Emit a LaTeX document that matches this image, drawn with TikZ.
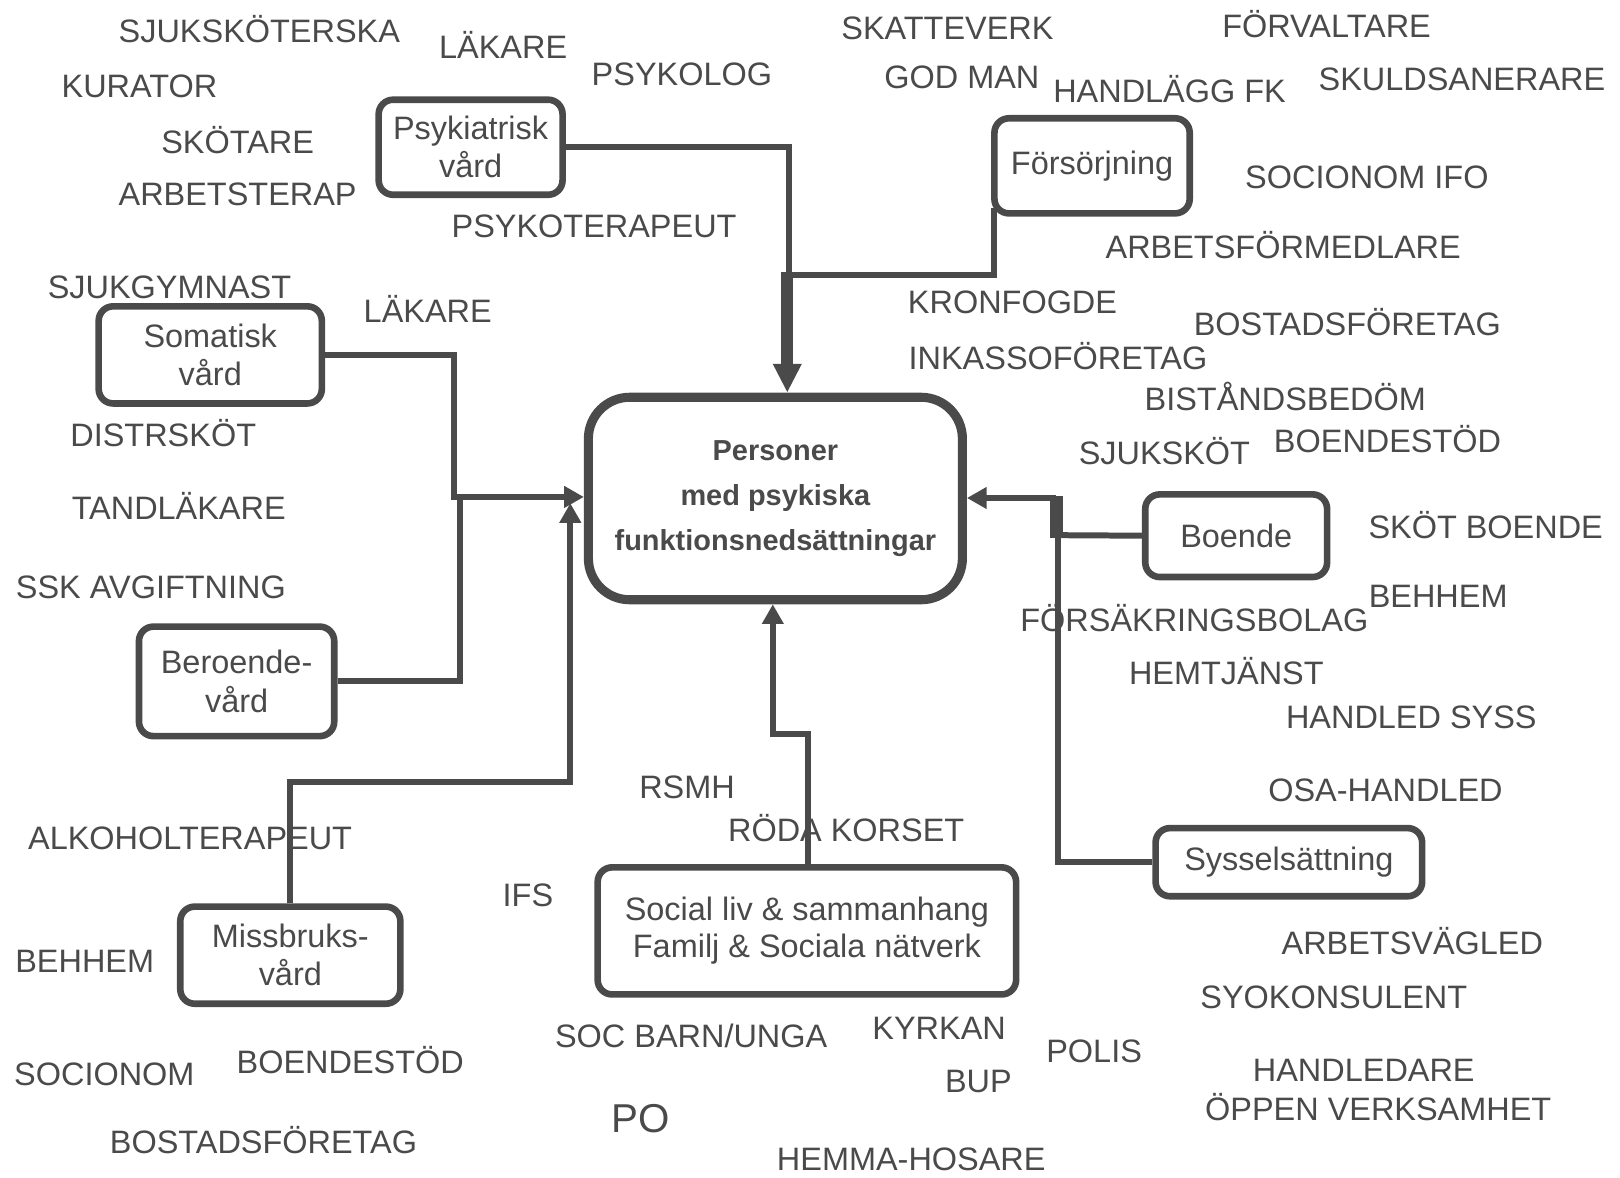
\documentclass[tikz,border=0pt]{standalone}
\usepackage{fontspec}
\setmainfont{Liberation Sans}
\usetikzlibrary{arrows.meta}
\definecolor{ink}{HTML}{4A4A4A}
\tikzset{
  lbl/.style={inner sep=0pt, text height=11.2pt, text depth=0pt, text=ink,
    font=\fontsize{15.7}{18.5}\selectfont},
  boxn/.style={draw=ink, line width=3.2pt, rounded corners=7pt, inner sep=0pt,
    align=center, text=ink, font=\fontsize{15.7}{18.5}\selectfont},
  conn/.style={draw=ink, line width=2.9pt},
  tipend/.style={-{Triangle[length=9.5pt,width=10pt]}},
}
\begin{document}
\begin{tikzpicture}[x=0.5pt,y=-0.5pt]
\useasboundingbox (0,0) rectangle (1568,1140);
\fill[white] (0,0) rectangle (1568,1140);

% ---- boxes
\node[boxn, minimum width=89pt, minimum height=46pt] (psy) at (455.5,142.5) {Psykiatrisk\\vård};
\node[boxn, minimum width=94.5pt, minimum height=46pt] (fors) at (1057,160.5) {Försörjning};
\node[boxn, minimum width=108pt, minimum height=47pt] (som) at (203.5,343.5) {Somatisk\\vård};
\node[boxn, minimum width=94.5pt, minimum height=53pt] (ber) at (229,659.5) {Beroende-\\vård};
\node[boxn, minimum width=106.5pt, minimum height=47pt] (mis) at (281,924.5) {Missbruks-\\vård};
\node[boxn, line width=4.4pt, rounded corners=20pt, minimum width=181pt, minimum height=98pt,
  font=\fontsize{14}{21.75}\selectfont\bfseries] (cen) at (750.5,482.5)
  {Personer\\med psykiska\\funktionsnedsättningar};
\node[boxn, minimum width=88pt, minimum height=40pt] (boe) at (1196.5,518.5) {Boende};
\node[boxn, minimum width=129pt, minimum height=33pt] (sys) at (1247.5,834.5) {Sysselsättning};
\node[boxn, minimum width=202.5pt, minimum height=61.5pt, font=\fontsize{15.7}{18}\selectfont] (soc) at (781,901)
  {Social liv \& sammanhang\\Familj \& Sociala nätverk};

% ---- connectors
\coordinate (jt) at (764,266);
\draw[conn] (psy.east) -| (jt);
\draw[conn] ([xshift=1.5pt,yshift=4pt]fors.south west) |- (jt);
\draw[draw=ink, line width=6pt, -{Triangle[length=14pt,width=13pt]}]
  ([xshift=-1pt,yshift=1.5pt]jt) -- ([xshift=-1pt]jt |- cen.north);

\coordinate (jl) at (439,481);
\draw[conn, tipend] (som.east) -| (jl) -- (jl -| cen.west);
\draw[conn] (ber.east) -| ([xshift=3pt]jl);

\coordinate (mb) at (552,757);
\coordinate (mt) at (552,487);
\draw[conn, tipend] (mis.north) |- (mb) -- (mt);

\coordinate (sj) at (748,710);
\draw[conn, tipend] ([xshift=0.5pt]soc.north) |- (sj) -- (sj |- cen.south);

\coordinate (jr) at (1024,518);
\coordinate (jr2) at (1022,482);
\draw[conn] (boe.west) -- (jr);
\draw[conn] (sys.west) -| (jr);
\fill[ink] (1016,480) rectangle (1029,521);
\draw[conn, tipend] (jr2) -- (jr2 -| cen.east);

% ---- labels, left / bottom
\node[lbl] (a1) at (251,30) {SJUKSKÖTERSKA};
\node[lbl] (a2) at (487,45) {LÄKARE};
\node[lbl] (a3) at (660,72) {PSYKOLOG};
\node[lbl] (a4) at (135,83) {KURATOR};
\node[lbl] (a5) at (230,137) {SKÖTARE};
\node[lbl] (a6) at (230,188) {ARBETSTERAP};
\node[lbl] (a7) at (575,219) {PSYKOTERAPEUT};
\node[lbl] (a8) at (164,278) {SJUKGYMNAST};
\node[lbl] (a9) at (414,301) {LÄKARE};
\node[lbl] (a10) at (158,421) {DISTRSKÖT};
\node[lbl] (a11) at (173,492) {TANDLÄKARE};
\node[lbl] (a12) at (146,568) {SSK AVGIFTNING};
\node[lbl] (a13) at (184,811) {ALKOHOLTERAPEUT};
\node[lbl] (a14) at (82,930) {BEHHEM};
\node[lbl] (a15) at (101,1039) {SOCIONOM};
\node[lbl] (a16) at (339,1028) {BOENDESTÖD};
\node[lbl] (a17) at (255,1105) {BOSTADSFÖRETAG};
\node[lbl] (a18) at (665,762) {RSMH};
\node[lbl] (a19) at (819,803) {RÖDA KORSET};
\node[lbl] (a20) at (511,866) {IFS};
\node[lbl] (a21) at (669,1003) {SOC BARN/UNGA};
\node[lbl] (a22) at (909,995) {KYRKAN};
\node[lbl] (a23) at (1059,1017) {POLIS};
\node[lbl] (a24) at (947,1046) {BUP};
\node[lbl, text height=14pt, font=\fontsize{19.5}{22}\selectfont] (a25) at (620,1082) {PO};
\node[lbl] (a26) at (882,1122) {HEMMA-HOSARE};

% ---- labels, right
\node[lbl] (b1) at (917,27) {SKATTEVERK};
\node[lbl] (b2) at (1284,25) {FÖRVALTARE};
\node[lbl] (b3) at (931,74) {GOD MAN};
\node[lbl] (b4) at (1132,88) {HANDLÄGG FK};
\node[lbl] (b5) at (1415,76) {SKULDSANERARE};
\node[lbl] (b6) at (1323,171) {SOCIONOM IFO};
\node[lbl] (b7) at (1242,239) {ARBETSFÖRMEDLARE};
\node[lbl] (b8) at (980,292) {KRONFOGDE};
\node[lbl] (b9) at (1304,314) {BOSTADSFÖRETAG};
\node[lbl] (b10) at (1024,346) {INKASSOFÖRETAG};
\node[lbl] (b11) at (1244,386) {BISTÅNDSBEDÖM};
\node[lbl] (b12) at (1127,438) {SJUKSKÖT};
\node[lbl] (b13) at (1343,427) {BOENDESTÖD};
\node[lbl] (b14) at (1438,510) {SKÖT BOENDE};
\node[lbl] (b15) at (1392,577) {BEHHEM};
\node[lbl] (b16) at (1156,600) {FÖRSÄKRINGSBOLAG};
\node[lbl] (b17) at (1187,651) {HEMTJÄNST};
\node[lbl] (b18) at (1366,694) {HANDLED SYSS};
\node[lbl] (b19) at (1341,765) {OSA-HANDLED};
\node[lbl] (b20) at (1367,913) {ARBETSVÄGLED};
\node[lbl] (b21) at (1291,965) {SYOKONSULENT};
\node[lbl] (b22) at (1320,1036) {HANDLEDARE};
\node[lbl] (b23) at (1334,1073) {ÖPPEN VERKSAMHET};
\end{tikzpicture}
\end{document}
